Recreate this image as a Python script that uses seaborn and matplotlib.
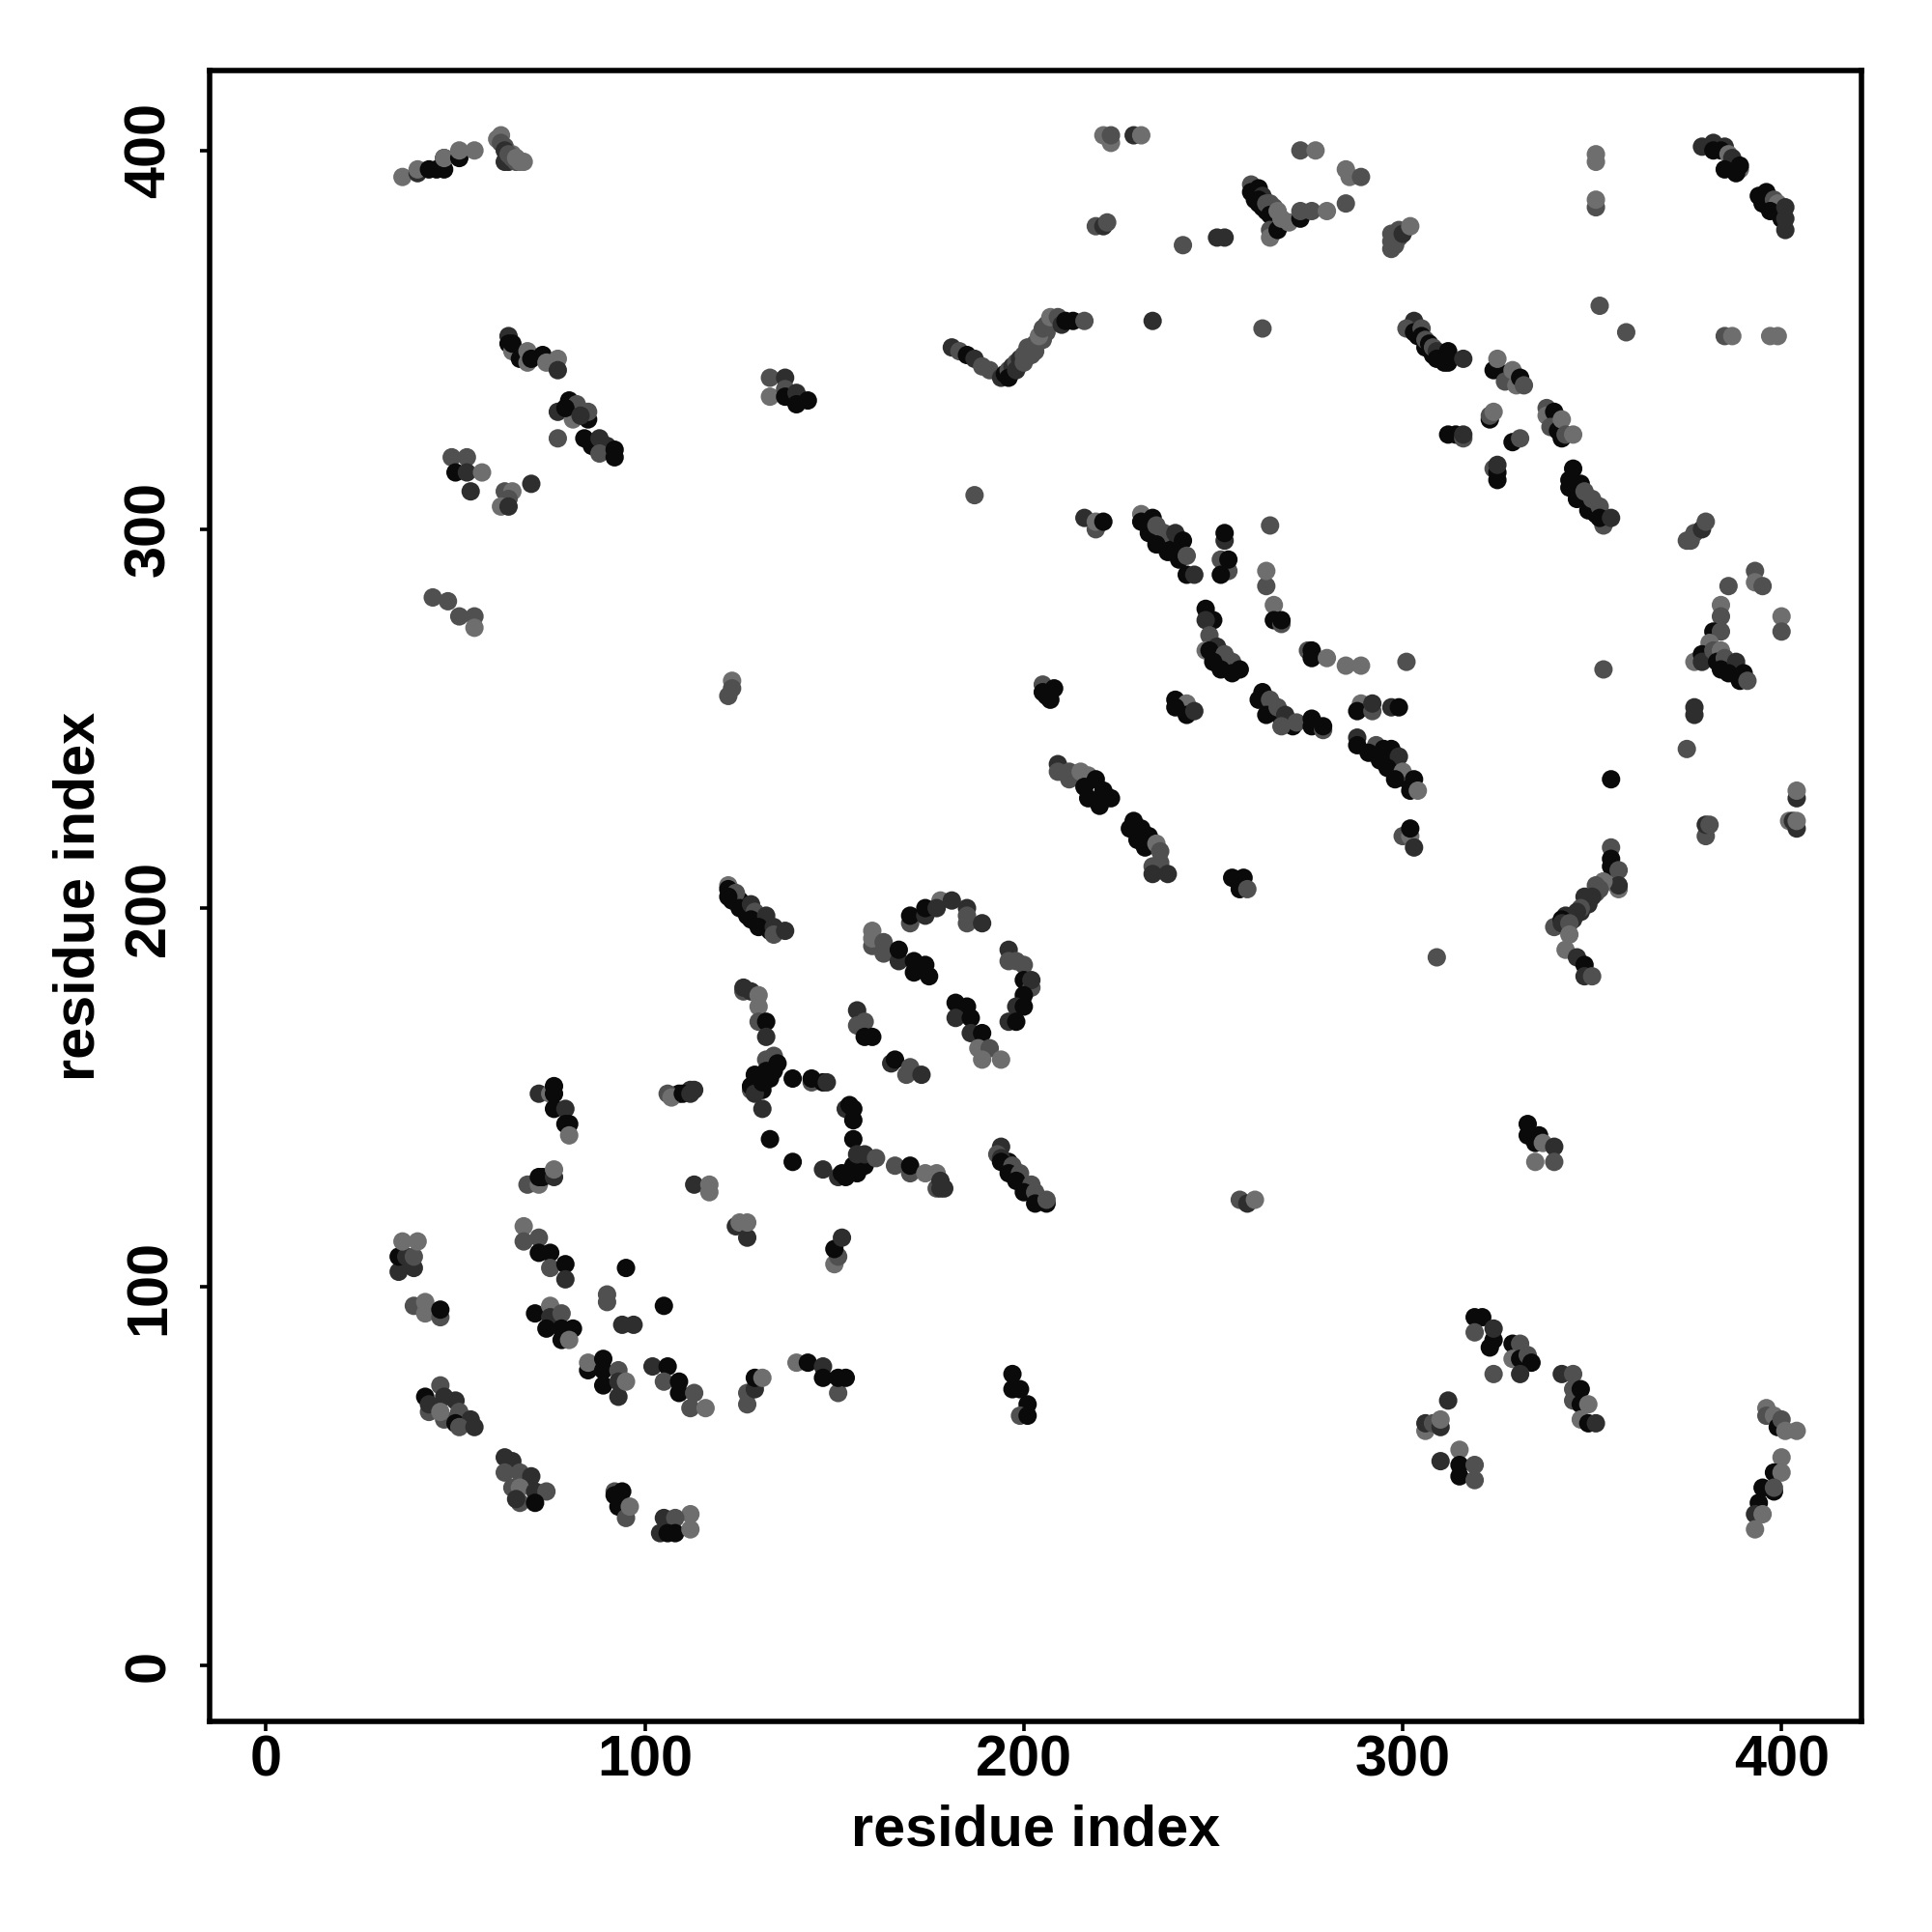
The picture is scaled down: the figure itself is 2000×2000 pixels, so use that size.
import matplotlib
matplotlib.use('Agg')
import matplotlib.pyplot as plt
import pandas as pd
import seaborn as sns

# k = black, d = dark, m = mid, l = light grey
SHADES = {'k': '#0a0a0a', 'd': '#2e2e2e', 'm': '#505050', 'l': '#6e6e6e'}
TICKS = [0, 100, 200, 300, 400]

# points hidden inside the thick bands, drawn first so the rest sit on top
band_x = [63, 65, 66, 68,
          262, 264, 266,
          304, 306, 308, 310,
          348, 350, 351,
          396, 399,
          251, 253,
          266, 268, 271,
          295, 297, 299, 301,
          125, 127, 129, 133,
          196, 198, 200, 202, 204,
          345, 347, 349, 351, 353, 355]
band_y = [401, 399, 398, 397,
          386, 384, 382,
          351, 348, 346, 345,
          308, 305, 304,
          386, 384,
          265, 264,
          252, 250, 248,
          240, 238, 236, 234,
          202, 198, 197, 194,
          133, 130, 127, 125, 123,
          197, 199, 203, 204, 207, 207]
band_s = list('mlll') + list('kkk') + list('kkkk') + list('kkk') + list('kk') + \
         list('kk') + list('kkk') + list('kkkk') + list('kkkk') + list('kkkkk') + \
         list('ddmmml')

upper_left_x = [36, 40, 40, 43, 45, 47, 47, 47, 51, 51, 55,
                64, 63, 65, 66, 62, 61, 62, 63, 64, 66, 67,
                64, 64, 65, 65, 67, 69, 69, 70, 73, 74, 77, 77,
                77, 80, 82, 81, 79, 85, 85, 77, 83,
                84, 86, 90, 88, 88, 92, 92,
                49, 53, 50, 53, 57, 54, 63, 65, 64, 62, 64, 70,
                133, 137, 133, 137, 137, 140, 140, 143,
                44, 48, 51, 55, 55,
                123, 123, 122, 187]
upper_left_y = [393, 394, 395, 395, 395, 395, 398, 398, 398, 400, 400,
                397, 397, 398, 397, 404, 403, 402, 400, 399, 398, 397,
                351, 349, 347, 349, 345, 347, 344, 345, 346, 344, 345, 342,
                331, 334, 333, 329, 332, 329, 331, 324, 330,
                324, 322, 322, 324, 320, 321, 319,
                319, 319, 315, 315, 315, 310, 310, 310, 308, 306, 306, 312,
                340, 340, 335, 337, 335, 336, 333, 334,
                282, 281, 277, 277, 274,
                260, 258, 256, 309]
upper_left_s = list('ldlkkkklkll') + list('ddmmllmdmll') + \
               list('dklkkllkklld') + list('dkmlkkmmd') + \
               list('kkddmkk') + list('mmkdldmlmldd') + \
               list('mdlmkdkk') + list('mmmml') + list('lmmm')

upper_mid_x = [221, 223, 223, 229, 231, 273, 277, 285, 286, 289, 285,
               219, 221, 222, 242, 251, 253,
               260, 260, 262, 261, 263, 263, 262, 264, 266, 265, 265, 267, 265, 265, 267, 268, 270, 273, 273, 276, 280,
               298, 299, 297, 297, 297, 299, 300, 302,
               181, 183, 185, 187, 189, 191, 194, 195, 196, 197, 198, 199,
               196, 198, 200, 202, 203, 205, 206,
               200, 201, 203, 204, 205, 206, 207, 209, 210, 211, 213, 216, 234, 263]
upper_mid_y = [404, 402, 404, 404, 404, 400, 400, 395, 393, 393, 386,
               380, 380, 381, 375, 377, 377,
               391, 389, 390, 387, 388, 385, 387, 386, 385, 386, 383, 384, 379, 377, 379, 382, 381, 382, 384, 384, 384,
               375, 377, 374, 376, 378, 379, 378, 380,
               348, 347, 346, 345, 343, 342, 340, 341, 342, 343, 344, 345,
               340, 342, 344, 346, 347, 350, 352,
               346, 348, 349, 351, 353, 354, 356, 356, 354, 355, 355, 355, 355, 353]
upper_mid_s = list('llmdlmlllmm') + list('mdmmdd') + \
              list('mkkkdkkmmmklmlkllkmml') + \
              list('mmmmmmdl') + list('dmkdmmdkmdmd') + list('kdmmmmm') + \
              list('mmmlmmlmdkkmdm')

upper_right_x = [303, 301, 303, 305, 305, 306, 307, 308, 309, 309, 311, 312, 312, 316,
                 351, 351, 351, 351, 352, 359,
                 379, 382, 382, 385, 384, 386, 387, 385, 389, 388, 389,
                 394, 396, 395, 398, 399, 397, 400, 401, 401, 401,
                 385, 387, 397, 399,
                 324, 327, 327, 325, 329, 330, 331, 332,
                 323, 323, 324, 312, 314, 316, 316, 329, 331,
                 324, 325, 325, 325,
                 338, 338, 340, 339, 341, 342, 342, 343, 345,
                 345, 344, 344, 346, 347, 349, 348, 350, 352, 353, 352, 355,
                 375, 376, 377, 379, 380]
upper_right_y = [355, 353, 352, 353, 351, 350, 349, 348, 347, 345, 344, 347, 344, 345,
                 399, 397, 385, 387, 359, 352,
                 401, 402, 400, 401, 400, 399, 398, 395, 395, 394, 396,
                 388, 389, 386, 387, 386, 384, 382, 385, 382, 379,
                 351, 351, 351, 351,
                 342, 341, 339, 345, 342, 338, 340, 338,
                 329, 330, 331, 325, 325, 324, 325, 323, 324,
                 316, 313, 315, 317,
                 332, 330, 331, 327, 326, 324, 329, 325, 325,
                 316, 313, 311, 308, 312, 305, 310, 308, 306, 301, 303, 303,
                 297, 297, 299, 300, 302]
upper_right_s = list('dmkmkmkmdkkkkd') + list('llmlmm') + list('ddkdkldklkk') + \
                list('kkkmlkkddd') + list('mlll') + list('kkmlllkm') + \
                list('kmlkkmdkm') + list('mkkd') + list('mlkmkklml') + \
                list('kkkkkkmmmmkd') + list('mmmdm')

center_x = [216, 219, 219, 221,
            236, 239, 240,
            231, 231, 234, 233, 235, 237, 240, 235, 242, 238, 241, 243, 243, 245,
            253, 253, 252, 254, 254, 252,
            265, 264, 264, 266, 266, 268, 268,
            248, 250, 248, 249, 248, 251, 249, 253, 250, 255, 252, 255, 257,
            275, 276, 276, 280, 285, 289, 301,
            205, 206, 205, 208, 207,
            240, 243, 240, 243, 245,
            263, 262, 265, 264, 267, 269, 268, 272, 276, 276, 279, 279,
            289, 288, 292, 292, 297, 299,
            288, 288, 293, 291, 295, 297, 294, 299, 296, 300, 298, 303, 302, 304,
            300, 302, 302, 303,
            209, 209, 212, 212, 215, 217, 216, 219, 217, 221, 220, 223,
            229, 228, 231, 230, 233, 232, 235, 236, 234, 236, 234, 238,
            255, 258, 257, 259, 309]
center_y = [303, 300, 302, 302,
            298, 296, 294,
            304, 302, 303, 299, 301, 299, 299, 296, 297, 294, 292, 293, 288, 288,
            297, 299, 292, 289, 292, 288,
            301, 285, 289, 280, 276, 275, 276,
            279, 276, 276, 272, 268, 269, 268, 267, 265, 265, 263, 262, 263,
            268, 268, 266, 266, 264, 264, 265,
            259, 256, 257, 258, 255,
            255, 254, 253, 251, 252,
            257, 255, 255, 251, 253, 251, 248, 249, 250, 248, 247, 248,
            254, 252, 252, 254, 253, 253,
            245, 243, 243, 241, 242, 242, 239, 240, 237, 236, 234, 234, 231, 231,
            219, 219, 221, 216,
            238, 236, 234, 236, 236, 235, 232, 234, 229, 231, 227, 229,
            223, 221, 221, 218, 219, 216, 217, 215, 211, 212, 209, 209,
            208, 208, 205, 205, 187]
center_s = list('dmlk') + list('kkk') + list('lkkkmmdkkkkmkd') + list('dkmmkk') + \
           list('mmllkmk') + list('kkdmldkmkmkkk') + list('mkklllm') + \
           list('mkkkk') + list('klkkd') + list('kkmkmdmmkkmk') + list('lkmddk') + \
           list('dkmkkkkdklkkkl') + list('mlkd') + list('dmmmllkkkkkk') + \
           list('kkkkkklmmmdd') + list('kkkmm')

lower_right_x = [348, 345, 344, 343,
                 353, 355, 355, 355, 357, 357, 357, 353, 351, 352, 350, 349, 347, 346,
                 340, 342, 342, 344, 344, 343, 346, 348, 348, 350,
                 393, 393, 395, 386, 384, 384, 382, 384, 381, 377, 379, 379,
                 382, 384, 383, 385, 384, 388, 386, 390, 389, 391,
                 400, 400, 377, 377, 375, 355,
                 404, 404, 402, 403, 404, 404, 380, 380, 381,
                 333, 333, 336, 335, 337, 340, 335, 340,
                 319, 321, 319, 323, 324, 324, 329, 331, 329, 331, 333, 334, 331, 324,
                 342, 345, 345, 345, 347, 347, 349, 347, 349, 351,
                 312, 306, 306, 308, 310, 310, 310, 315, 315, 315, 319, 319,
                 396, 396, 398, 399, 400, 401, 404,
                 400, 398, 400, 395, 398, 398, 394, 393, 395, 393,
                 257, 259, 261]
lower_right_y = [203, 198, 197, 198,
                 263, 216, 213, 211, 210, 205, 206, 207, 206, 205, 203, 201, 200, 199,
                 195, 197, 196, 196, 193, 189, 187, 185, 182, 182,
                 289, 286, 285, 285, 280, 277, 273, 273, 270, 265, 267, 265,
                 268, 268, 265, 266, 263, 265, 262, 262, 260, 260,
                 277, 273, 253, 251, 242, 234,
                 229, 231, 223, 223, 221, 223, 219, 222, 222,
                 143, 140, 140, 138, 138, 137, 133, 133,
                 92, 92, 88, 84, 86, 89, 85, 85, 81, 81, 82, 80, 77, 77,
                 77, 77, 73, 70, 73, 69, 69, 65, 64, 64,
                 70, 62, 64, 64, 63, 65, 54, 57, 50, 53, 49, 53,
                 68, 66, 66, 63, 65, 62, 62,
                 55, 51, 51, 47, 46, 47, 43, 40, 40, 36,
                 123, 122, 123]
lower_right_s = list('ddkd') + list('mmkkmldlmmddmd') + list('mkdmlldkdm') + \
                list('mlmmlmkmllkd') + list('mlkmkdkkkm') + list('lmddmk') + \
                list('dllddlmdm') + list('kkkkldlm') + list('kkmkkdkmlkmkdm') + \
                list('dmmmkkllkd') + list('dldmdldlkkmm') + list('lmlkmll') + \
                list('lklkkmkdll') + list('mdl')

turn_x = [123, 126, 127, 131,
          122, 122, 124, 122, 125, 128, 129, 128, 132, 130, 134, 134, 137,
          170, 170, 174, 174, 178, 177, 181, 185, 185, 185, 189,
          160, 160, 160, 163, 163, 167, 167, 171, 171, 174, 175,
          196, 196, 198, 200, 200, 202, 202, 200, 198, 200, 196, 198,
          182, 185, 182, 186, 186, 189, 188, 191, 189, 194,
          156, 156, 158, 158, 160,
          165, 166, 169, 170, 173,
          126, 126, 128, 130, 130, 130, 132, 132]
turn_y = [202, 201, 199, 196,
          206, 205, 204, 203, 200, 201, 199, 197, 198, 195, 195, 193, 194,
          196, 198, 198, 200, 202, 200, 202, 200, 198, 196, 196,
          190, 192, 194, 188, 191, 186, 189, 183, 186, 185, 182,
          189, 186, 186, 185, 181, 179, 181, 177, 174, 174, 170, 170,
          175, 174, 171, 171, 167, 167, 163, 163, 160, 160,
          173, 169, 170, 166, 166,
          159, 160, 156, 158, 156,
          178, 179, 178, 177, 174, 170, 170, 166]
turn_s = list('kkkk') + list('lkmkkdmkdkdmd') + list('mkdkldddmmd') + \
         list('mllmmdkkkkk') + list('dmmmkmdkdkdk') + list('kkdkdklmll') + \
         list('dmmkk') + list('dkmmd') + list('mddllmkd')

center_low_x = [130, 131, 133, 134,
                134, 132, 129, 128, 128, 129, 131, 132, 133, 135, 131,
                109, 112, 139, 144, 144, 147, 148,
                153, 154, 155, 155, 155, 133, 139, 147,
                151, 153, 152, 156, 155, 158, 156, 158, 161,
                166, 170, 170, 174, 177, 177, 178, 178, 179,
                113, 117, 117, 124, 125, 127, 127,
                150, 151, 150, 152,
                194, 193, 194, 194, 197, 196, 199, 198, 202, 200, 203, 203, 206, 206,
                197, 197, 199, 201, 199, 201]
center_low_y = [155, 152, 158, 157,
                161, 160, 156, 152, 153, 151, 154, 157, 155, 159, 147,
                151, 152, 155, 154, 155, 154, 154,
                147, 148, 147, 144, 139, 139, 133, 131,
                129, 129, 130, 130, 132, 132, 135, 135, 134,
                132, 130, 132, 130, 130, 126, 128, 126, 126,
                127, 125, 127, 116, 117, 113, 117,
                106, 108, 110, 113,
                137, 135, 134, 133, 132, 130, 130, 128, 127, 125, 125, 122, 122, 123,
                77, 73, 73, 69, 66, 66]
center_low_s = list('kkkk') + list('mmkmkdkkkkd') + list('kdkmkkd') + \
               list('dkkkkkkd') + list('dkkkkkddm') + list('mmkllmddd') + \
               list('dlldldl') + list('lmkd') + \
               list('dmdkmkmkmkmkkm') + list('kkkkmk')

lower_left_x = [72, 75, 76, 76, 76, 79, 79, 80, 80,
                106, 107, 110, 112, 113,
                69, 72, 72, 73, 76, 76,
                68, 68, 72, 72, 75, 75, 79, 79,
                35, 39, 35, 37, 39, 36, 40,
                39, 42, 42, 46, 46,
                71, 75, 75, 78, 74, 78, 81, 78, 80,
                95, 90, 90, 94, 97, 105,
                85, 85, 89, 89, 89, 93, 93, 93, 95,
                102, 106, 105, 109, 109, 113, 112, 116,
                127, 127, 129, 129, 131,
                140, 143, 147, 147, 151, 151, 153,
                42, 46, 47, 43, 43, 47, 46, 50, 51, 50, 54, 51, 55,
                63, 65, 63, 67, 70, 65, 67, 71, 74, 67, 71, 66,
                92, 94, 92, 93, 95, 96,
                105, 112, 108, 108, 104, 112, 106]
lower_left_y = [151, 151, 151, 153, 147, 147, 143, 143, 140,
                151, 150, 151, 151, 152,
                127, 127, 129, 129, 129, 131,
                116, 112, 113, 109, 109, 105, 106, 102,
                104, 105, 108, 108, 108, 112, 112,
                95, 93, 96, 92, 94,
                93, 95, 92, 93, 89, 89, 89, 86, 86,
                105, 98, 96, 90, 90, 95,
                78, 80, 81, 78, 74, 78, 75, 71, 75,
                79, 79, 75, 72, 75, 72, 68, 68,
                69, 72, 73, 76, 76,
                80, 80, 79, 76, 72, 76, 76,
                71, 74, 71, 67, 69, 65, 67, 70, 67, 64, 65, 63, 63,
                55, 54, 51, 51, 50, 47, 47, 46, 46, 43, 43, 44,
                46, 46, 45, 42, 39, 42,
                39, 40, 39, 35, 35, 36, 35]
lower_left_s = list('dlkkkdkkl') + list('mlkdd') + list('mlkkdl') + list('lmmkkmkd') + \
               list('ddkdmll') + list('mllmk') + list('kldmkkkkl') + list('kmmddk') + \
               list('klkkkmddl') + list('dkmkkmml') + list('mmdkl') + list('lkdkmkk') + \
               list('kmdmdmldmkdmd') + list('ddmmdmldmmkd') + list('mkkkml') + \
               list('dlmkdlk')

regions = [
    (band_x, band_y, band_s),
    (upper_left_x, upper_left_y, upper_left_s),
    (upper_mid_x, upper_mid_y, upper_mid_s),
    (upper_right_x, upper_right_y, upper_right_s),
    (center_x, center_y, center_s),
    (lower_right_x, lower_right_y, lower_right_s),
    (turn_x, turn_y, turn_s),
    (center_low_x, center_low_y, center_low_s),
    (lower_left_x, lower_left_y, lower_left_s),
]
df = pd.concat([pd.DataFrame({'x': x, 'y': y, 'shade': s}) for x, y, s in regions],
               ignore_index=True)

sns.set_style('white')
plt.rcParams['font.family'] = ['Liberation Sans', 'DejaVu Sans']
plt.rcParams['text.color'] = 'black'
plt.rcParams['axes.labelcolor'] = 'black'
plt.rcParams['xtick.color'] = 'black'
plt.rcParams['ytick.color'] = 'black'

fig = plt.figure(figsize=(10, 10), dpi=200)
ax = fig.add_axes([0.1085, 0.109, 0.855, 0.8545])

sns.scatterplot(data=df, x='x', y='y', hue='shade', palette=SHADES, s=47,
                linewidth=0, legend=False, ax=ax)

ax.set_xlim(-14.9, 421.1)
ax.set_ylim(-14.7, 421.1)
ax.set_xticks(TICKS)
ax.set_yticks(TICKS)
ax.tick_params(axis='both', length=3.5, width=1.3, labelsize=21.4, left=True, bottom=True)
ax.tick_params(axis='x', pad=1.5)
ax.tick_params(axis='y', pad=9)
for label in ax.get_xticklabels():
    label.set_fontweight('bold')
for label in ax.get_yticklabels():
    label.set_fontweight('bold')
    label.set_rotation(90)
    label.set_va('center')
ax.set_xlabel('residue index', fontsize=21.4, fontweight='bold', labelpad=6)
ax.set_ylabel('residue index', fontsize=21.4, fontweight='bold', labelpad=6.5)
for spine in ax.spines.values():
    spine.set_linewidth(2.0)
    spine.set_color('black')

plt.savefig('out.png', dpi=200)
plt.close()
